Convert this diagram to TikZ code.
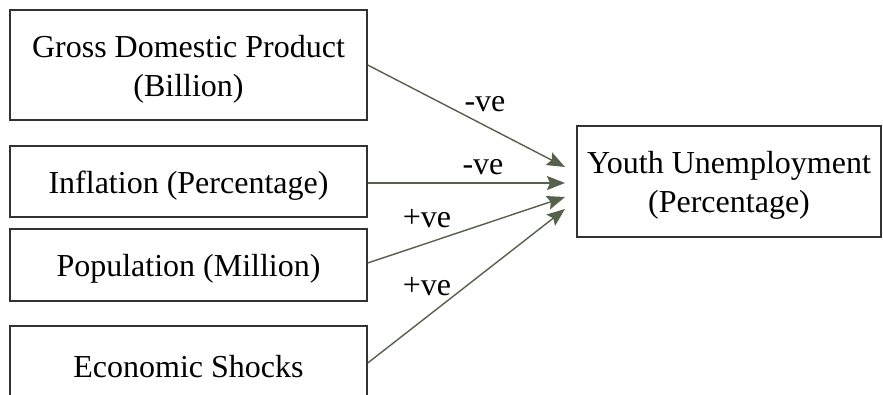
\documentclass[tikz,border=0pt]{standalone}
\usepackage{fontspec}
\setmainfont{Liberation Serif}
\usetikzlibrary{arrows.meta}
\definecolor{arrowgray}{RGB}{86,96,74}
\definecolor{boxgray}{RGB}{50,50,50}
\newcommand{\lift}{\rule{0pt}{30pt}}
\tikzset{
  factor/.style={draw=boxgray,line width=1.4pt,align=center,minimum width=357pt,inner sep=0pt},
  link/.style={draw=arrowgray,line width=1.4pt,-{Stealth[length=18pt,width=14pt,inset=3pt]}}
}

\begin{document}
\begin{tikzpicture}[x=1pt,y=-1pt,font=\fontsize{32}{39}\selectfont]
  \useasboundingbox (0,0) rectangle (883,394);
  \node[factor,minimum height=110pt] (gdp) at (188.5,65) {\lift Gross Domestic Product\\(Billion)};
  \node[factor,minimum height=71pt] (inf) at (188.5,181.5) {\lift Inflation (Percentage)};
  \node[factor,minimum height=72pt] (pop) at (188.5,265) {\lift Population (Million)};
  \node[factor,minimum height=74pt] (shock) at (188.5,363) {\lift Economic Shocks};
  \node[factor,minimum width=304pt,minimum height=111pt] (yu) at (729,181.5) {\lift Youth Unemployment\\(Percentage)};
  \coordinate (t1) at (565,167);
  \coordinate (t2) at (565,183);
  \coordinate (t3) at (565,197);
  \coordinate (t4) at (565,209);
  \draw[link] (gdp.east) -- (t1);
  \draw[link] (inf.east |- t2) -- (t2);
  \draw[link] ([yshift=2pt]pop.east) -- (t3);
  \draw[link] (shock.east) -- (t4);
  % signs of the effects
  \node (s1) at (485,104) {-ve};
  \node (s2) at (483,167) {-ve};
  \node (s3) at (427,219) {+ve};
  \node (s4) at (427,287) {+ve};
\end{tikzpicture}
\end{document}
